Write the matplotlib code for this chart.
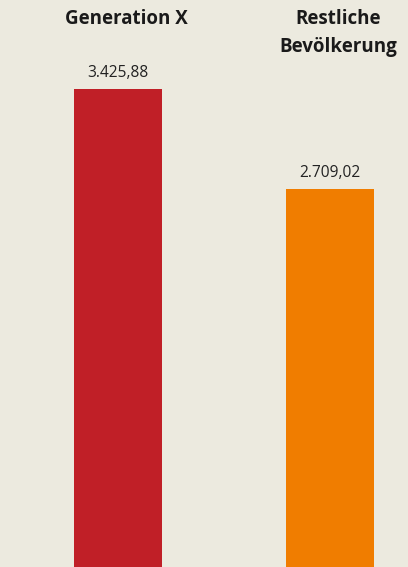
import matplotlib.pyplot as plt

categories = ['Generation X', 'Restliche\nBevölkerung']
values = [3425.88, 2709.02]
value_labels = ['3.425,88', '2.709,02']
colors = ['#C01F27', '#F07D00']

plt.rcParams['font.family'] = ['Open Sans', 'DejaVu Sans']

fig = plt.figure(figsize=(4.08, 5.67), dpi=100, facecolor='#ECEADF')
ax = fig.add_axes([0, 0, 1, 1])
ax.set_facecolor('#ECEADF')

x = [0, 1]
ax.bar(x, values, width=0.415, color=colors)
ax.set_xlim(-0.5566, 1.368)
ax.set_ylim(0, 4064)
ax.axis('off')

# value labels above each bar
for i, (v, lab) in enumerate(zip(values, value_labels)):
    ax.annotate(lab, xy=(i, v), xytext=(0, 12), textcoords='offset pixels',
                ha='center', va='baseline', fontsize=11.2, color='#222222')

# category names at the top
for i, cat in enumerate(categories):
    ax.annotate(cat, xy=(i, 1), xycoords=('data', 'axes fraction'),
                xytext=(8, -9), textcoords='offset pixels',
                ha='center', va='top', fontsize=13.5, fontweight='bold',
                color='#1a1a1a', linespacing=1.55)

fig.savefig('out.png', dpi=100, facecolor=fig.get_facecolor())
